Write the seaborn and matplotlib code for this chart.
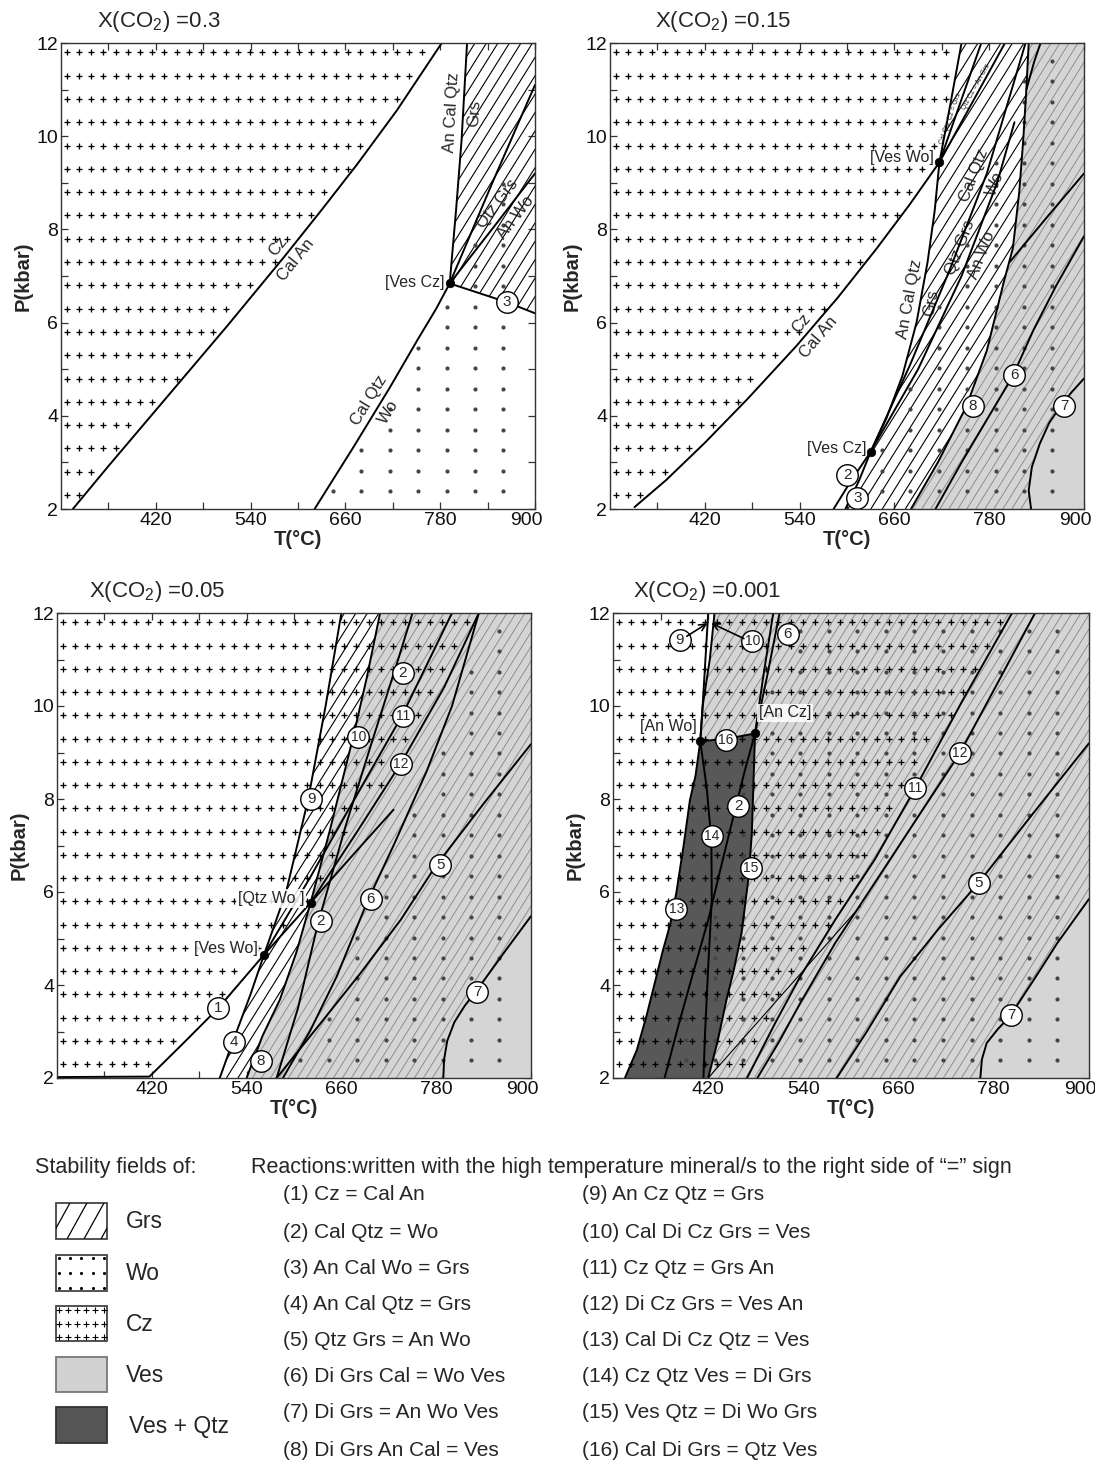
import numpy as np
import matplotlib
matplotlib.use("Agg")
import matplotlib.pyplot as plt
import matplotlib.transforms as mtrans
import seaborn as sns
from matplotlib.path import Path
from matplotlib.patches import Polygon, Rectangle
from matplotlib.collections import LineCollection

sns.set_theme(style="ticks")
plt.rcParams["font.family"] = ["Liberation Sans", "DejaVu Sans"]
plt.rcParams["mathtext.fontset"] = "custom"
plt.rcParams["mathtext.rm"] = "Liberation Sans"
plt.rcParams["mathtext.it"] = "Liberation Sans:italic"
plt.rcParams["mathtext.bf"] = "Liberation Sans:bold"

# ---------------- axes ranges and ticks ----------------
T_MIN, T_MAX = 300, 900
P_MIN, P_MAX = 2, 12
T_MAJOR = [420, 540, 660, 780, 900]
T_MINOR = [360, 480, 600, 720, 840]
P_MAJOR = [2, 4, 6, 8, 10, 12]
P_MINOR = [3, 5, 7, 9, 11]
TITLES = ["X(CO$_2$) =0.3", "X(CO$_2$) =0.15", "X(CO$_2$) =0.05", "X(CO$_2$) =0.001"]

# ---------------- X(CO2) = 0.3 ----------------
A_VESCZ = (792, 6.84)
A_R1_T = [315, 360, 434, 510, 582, 630, 675, 725, 782]
A_R1_P = [2.0, 2.92, 4.4, 5.92, 7.4, 8.42, 9.4, 10.55, 12.0]
A_R2_T = [621, 671, 716, 752, 775, 792]
A_R2_P = [2.0, 3.35, 4.6, 5.65, 6.3, 6.84]
A_R2M_T = [792, 846, 900]
A_R2M_P = [6.84, 9.0, 11.1]
A_R3_T = [792, 864, 900]
A_R3_P = [6.84, 6.44, 6.2]
A_R4_T = [792, 800, 807, 814]
A_R4_P = [6.84, 8.4, 9.9, 12.0]
A_R5_T = [792, 850, 900]
A_R5_P = [6.84, 8.1, 9.2]

# ---------------- X(CO2) = 0.15 ----------------
B_VESWO = (717, 9.44)
B_VESCZ = (630, 3.23)
B_R1_T = [331, 371, 420, 474, 536, 589, 638, 680, 717]
B_R1_P = [2.04, 2.62, 3.42, 4.36, 5.5, 6.55, 7.6, 8.55, 9.44]
B_R4_T = [630, 650, 670, 688, 702, 711, 717, 731, 745]
B_R4_P = [3.23, 3.95, 4.85, 6.0, 7.3, 8.4, 9.44, 10.7, 12.0]
B_R2_T = [583, 605, 630, 680, 730, 777, 826]
B_R2_P = [2.0, 2.6, 3.23, 5.1, 7.13, 9.2, 12.0]
B_R3_T = [598, 615, 630]
B_R3_P = [2.0, 2.6, 3.23]
B_R5_T = [630, 690, 745, 790, 812]
B_R5_P = [3.23, 5.0, 7.0, 9.0, 10.3]
B_R8_T = [681, 715, 751, 777, 798, 810, 818, 823, 827, 830]
B_R8_P = [2.0, 3.0, 4.2, 5.4, 6.84, 7.6, 8.8, 9.9, 11.0, 12.0]
B_F1_T = [717, 770]
B_F1_P = [9.44, 12.0]
B_F2_T = [717, 800]
B_F2_P = [9.44, 12.0]
B_R10_T = [827, 837, 845]
B_R10_P = [11.0, 11.6, 12.0]
B_R6_T = [712, 745, 780, 810, 836, 865, 900]
B_R6_P = [2.0, 3.0, 4.0, 4.86, 5.84, 6.8, 7.85]
B_R12_T = [806, 855, 900]
B_R12_P = [7.3, 8.3, 9.2]
B_R7_T = [833, 830, 834, 844, 856, 868, 884, 900]
B_R7_P = [2.0, 2.4, 2.9, 3.4, 3.85, 4.15, 4.5, 4.8]

# ---------------- X(CO2) = 0.05 ----------------
C_VESWO = (562, 4.65)
C_QTZWO = (621, 5.77)
C_R1_T = [300, 417, 460, 504, 562, 621, 680, 726]
C_R1_P = [2.02, 2.03, 2.75, 3.5, 4.65, 5.77, 6.9, 7.77]
C_R4_T = [506, 521, 545, 562]
C_R4_P = [2.0, 2.71, 3.8, 4.65]
C_R9_T = [562, 590, 618, 640, 660]
C_R9_P = [4.65, 6.0, 8.0, 10.0, 12.0]
C_R8_T = [540, 560, 582, 603, 621]
C_R8_P = [2.0, 2.9, 3.68, 4.7, 5.77]
C_R10_T = [621, 645, 675, 692, 709]
C_R10_P = [5.77, 7.3, 9.34, 10.6, 12.0]
C_R2_T = [578, 605, 630, 665, 700, 730, 750]
C_R2_P = [2.0, 3.5, 5.3, 7.4, 9.3, 10.9, 12.0]
C_R11_T = [562, 620, 680, 737, 800]
C_R11_P = [4.65, 6.3, 8.1, 9.8, 12.0]
C_R12_T = [621, 680, 735, 790, 834]
C_R12_P = [5.77, 7.3, 8.76, 10.4, 12.0]
C_R6_T = [586, 620, 654, 693, 726, 768, 800, 834]
C_R6_P = [2.0, 3.0, 4.18, 5.8, 7.0, 8.6, 10.0, 12.0]
C_R5_T = [578, 630, 684, 735, 779, 840, 900]
C_R5_P = [2.0, 3.1, 4.25, 5.4, 6.55, 7.9, 9.18]
C_R7_T = [789, 790, 794, 803, 816, 832, 866, 900]
C_R7_P = [2.0, 2.4, 2.8, 3.2, 3.55, 3.9, 4.7, 5.48]

# ---------------- X(CO2) = 0.001 ----------------
D_ANWO = (410, 9.24)
D_ANCZ = (479, 9.41)
D_R9_T = [410, 413, 416.5, 420]
D_R9_P = [9.24, 10.0, 11.0, 12.0]
D_R10_T = [410, 413, 422, 428]
D_R10_P = [9.24, 10.0, 11.0, 12.0]
D_R16_T = [410, 445, 479]
D_R16_P = [9.24, 9.3, 9.41]
D_R6_T = [479, 495, 510]
D_R6_P = [9.41, 10.7, 12.0]
D_R2_T = [365, 382, 400, 420, 437, 455, 466, 479]
D_R2_P = [2.0, 3.1, 4.2, 5.4, 6.6, 7.85, 8.6, 9.41]
D_R2M_T = [479, 490, 502]
D_R2M_P = [9.41, 10.7, 12.0]
D_R13_T = [410, 404, 397, 389, 380, 372, 363, 352, 342, 330, 315]
D_R13_P = [9.24, 8.5, 7.98, 7.0, 6.0, 5.3, 4.75, 4.0, 3.32, 2.6, 2.0]
D_R14_T = [410, 418, 424, 424.5, 420, 416, 414]
D_R14_P = [9.24, 8.26, 7.12, 5.83, 4.39, 2.96, 2.0]
D_R15_T = [479, 477, 475, 471, 462, 452, 443, 432, 420]
D_R15_P = [9.41, 8.3, 7.26, 6.33, 5.11, 4.3, 3.68, 2.8, 2.0]
D_R11_T = [469, 505, 536, 580, 630, 681, 740, 803]
D_R11_P = [2.0, 3.2, 4.18, 5.4, 6.7, 8.23, 10.1, 12.0]
D_R12_T = [482, 510, 536, 580, 630, 680, 737, 785, 832]
D_R12_P = [2.0, 2.8, 3.61, 4.9, 6.2, 7.5, 8.98, 10.5, 12.0]
D_RM_T = [420, 612]
D_RM_P = [2.0, 5.7]
D_R5_T = [582, 620, 662, 710, 761, 830, 900]
D_R5_P = [2.0, 3.0, 4.18, 5.2, 6.2, 7.7, 9.2]
D_R7_T = [763, 765, 771, 785, 800, 830, 860, 900]
D_R7_P = [2.0, 2.4, 2.75, 3.05, 3.32, 4.1, 4.9, 5.85]

# reaction numbers in circles: (label, T, P)
A_NUMS = [("3", 864, 6.44)]
B_NUMS = [("2", 600, 2.72), ("3", 613, 2.23), ("6", 812, 4.88), ("7", 875, 4.2), ("8", 759, 4.22)]
C_NUMS = [("1", 504, 3.5), ("4", 524, 2.78), ("8", 558, 2.36), ("9", 622, 8.0), ("10", 681.5, 9.33),
          ("2", 737.6, 10.7), ("11", 737.6, 9.79), ("12", 735, 8.76), ("2", 634, 5.37),
          ("6", 697, 5.86), ("5", 785, 6.59), ("7", 832, 3.84)]
D_NUMS = [("9", 384, 11.43), ("10", 475.5, 11.39), ("6", 520, 11.54), ("16", 442, 9.27),
          ("2", 458, 7.85), ("14", 425, 7.2), ("15", 474, 6.51), ("13", 380, 5.64),
          ("11", 681, 8.23), ("12", 737, 8.98), ("5", 761, 6.2), ("7", 802, 3.35)]

# legend content
FIELD_NAMES = ["Grs", "Wo", "Cz", "Ves", "Ves + Qtz"]
REACTIONS_LEFT = ["(1) Cz = Cal An", "(2) Cal Qtz = Wo", "(3) An Cal Wo = Grs", "(4) An Cal Qtz = Grs",
                  "(5) Qtz Grs = An Wo", "(6) Di Grs Cal = Wo Ves", "(7) Di Grs = An Wo Ves",
                  "(8) Di Grs An Cal = Ves"]
REACTIONS_RIGHT = ["(9) An Cz Qtz = Grs", "(10) Cal Di Cz Grs = Ves", "(11) Cz Qtz = Grs An",
                   "(12) Di Cz Grs = Ves An", "(13) Cal Di Cz Qtz = Ves", "(14) Cz Qtz Ves = Di Grs",
                   "(15) Ves Qtz = Di Wo Grs", "(16) Cal Di Grs = Qtz Ves"]

# ---------------- styling ----------------
VES_GRAY = "#d5d5d5"
VESQTZ_GRAY = "#585858"
HATCH_GRAY = "#8e8e8e"
DOT_COLOR = "#454545"
CZ_T = np.arange(307, 900, 15.5)
CZ_P = np.arange(2.3, 12.0, 0.5)
WO_T = np.arange(320, 900, 36.0)
WO_P = np.arange(2.38, 12.0, 0.44)

FIG_W, FIG_H = 1095, 1464
fig = plt.figure(figsize=(FIG_W / 100, FIG_H / 100), dpi=100)


def make_ax(l, r, t, b):
    ax = fig.add_axes([l / FIG_W, 1 - b / FIG_H, (r - l) / FIG_W, (b - t) / FIG_H])
    ax.set_xlim(T_MIN, T_MAX)
    ax.set_ylim(P_MIN, P_MAX)
    return ax


def pts(T, P):
    return list(zip(T, P))


def rev(T, P):
    return list(zip(T[::-1], P[::-1]))


def curve(ax, T, P, lw=1.4, color="black"):
    sns.lineplot(x=T, y=P, sort=False, estimator=None, color=color, linewidth=lw,
                 ax=ax, zorder=5, legend=False)


def fill(ax, verts, color, z=1.0):
    ax.add_patch(Polygon(verts, closed=True, fc=color, ec="none", zorder=z))


def hatch(ax, verts, color, spacing, lw, angle=58, z=2):
    clip = Polygon(verts, closed=True, fc="none", ec="none", transform=ax.transData)
    ax.add_patch(clip)
    bb = ax.get_position()
    W, H = bb.width * FIG_W, bb.height * FIG_H
    k = np.tan(np.radians(angle))
    segs = []
    for c in np.arange(-H / k - spacing, W + spacing, spacing):
        x0, x1 = c, c + H / k
        segs.append([(T_MIN + x0 / W * (T_MAX - T_MIN), P_MIN),
                     (T_MIN + x1 / W * (T_MAX - T_MIN), P_MAX)])
    lc = LineCollection(segs, colors=color, linewidths=lw, zorder=z)
    ax.add_collection(lc, autolim=False)
    lc.set_clip_path(clip)


def marks(ax, verts, kind):
    path = Path(verts)
    if kind == "cz":
        TT, PP = np.meshgrid(CZ_T, CZ_P)
    else:
        TT, PP = np.meshgrid(WO_T, WO_P)
    g = np.column_stack([TT.ravel(), PP.ravel()])
    ok = path.contains_points(g) & path.contains_points(g + [5, 0]) & path.contains_points(g - [5, 0])
    if kind == "cz":
        ax.scatter(g[ok, 0], g[ok, 1], marker="+", s=24, linewidths=0.95, color="black", zorder=3)
    else:
        ax.scatter(g[ok, 0], g[ok, 1], marker="o", s=9, linewidths=0, color=DOT_COLOR, zorder=3)


def num(ax, items):
    for s, T, P in items:
        ax.scatter([T], [P], s=240, facecolor="white", edgecolor="black", linewidths=1.0, zorder=6)
        ax.text(T, P, s, ha="center", va="center", fontsize=11 if len(s) == 1 else 10, zorder=7)


def point(ax, TP):
    sns.scatterplot(x=[TP[0]], y=[TP[1]], color="black", s=38, ax=ax, zorder=8, legend=False,
                    edgecolor="black")


def line_label(ax, T, P, T0, above, below, d=8, fs=12):
    T = np.asarray(T, float)
    P = np.asarray(P, float)
    P0 = np.interp(T0, T, P)
    P1 = np.interp(T0 + 1.0, T, P)
    a = ax.transData.transform([(T0, P0), (T0 + 1.0, P1)])
    ang = np.degrees(np.arctan2(a[1, 1] - a[0, 1], a[1, 0] - a[0, 0]))
    r = np.radians(ang)
    nx, ny = -np.sin(r), np.cos(r)
    for txt, sgn in ((above, 1), (below, -1)):
        if txt:
            ax.annotate(txt, (T0, P0), xytext=(sgn * nx * d, sgn * ny * d), textcoords="offset points",
                        rotation=ang, rotation_mode="anchor", ha="center", va="center",
                        fontsize=fs, zorder=4)


def bracket(ax, T, P, s, ha, box=False):
    kw = dict(fontsize=11.5, ha=ha, va="center", zorder=7)
    if box:
        kw["bbox"] = dict(boxstyle="square,pad=0.1", fc="white", ec="none", alpha=0.85)
    ax.text(T, P, s, **kw)


def style(ax, title, tx, ty):
    ax.set_xlim(T_MIN, T_MAX)
    ax.set_ylim(P_MIN, P_MAX)
    ax.set_xticks(T_MAJOR)
    ax.set_xticks(T_MINOR, minor=True)
    ax.set_yticks(P_MAJOR)
    ax.set_yticks(P_MINOR, minor=True)
    ax.tick_params(which="both", direction="in", top=True, right=True, length=5, width=0.9,
                   color="#333333", labelsize=14, pad=2, labelcolor="#111111")
    for sp in ax.spines.values():
        sp.set_color("#333333")
        sp.set_linewidth(1.0)
        sp.set_zorder(9)
    ax.set_xlabel("T(°C)", fontsize=14.5, fontweight="bold", labelpad=1)
    ax.set_ylabel("P(kbar)", fontsize=14.5, fontweight="bold", labelpad=3)
    # keep the right-most temperature label inside the frame edge
    last = ax.xaxis.get_major_ticks()[-1].label1
    last.set_horizontalalignment("right")
    last.set_transform(last.get_transform() + mtrans.ScaledTranslation(0.08, 0, fig.dpi_scale_trans))
    fig.text(tx / FIG_W, 1 - ty / FIG_H, title, fontsize=16, ha="left", va="center")


axA = make_ax(61, 535, 43, 509)
axB = make_ax(610, 1084, 43, 509)
axC = make_ax(57, 531, 613, 1078)
axD = make_ax(613, 1089, 613, 1078)

# ================= panel A: X(CO2)=0.3 =================
ax = axA
cz = [(300, 2)] + pts(A_R1_T, A_R1_P) + [(300, 12)]
grs = pts(A_R4_T, A_R4_P) + [(900, 12)] + rev(A_R3_T, A_R3_P)
wo = pts(A_R2_T, A_R2_P) + pts(A_R2M_T, A_R2M_P)[1:] + [(900, 2)]
hatch(ax, grs, "black", 11.5, 0.8)
marks(ax, cz, "cz")
marks(ax, wo, "wo")
for T, P in [(A_R1_T, A_R1_P), (A_R2_T, A_R2_P), (A_R2M_T, A_R2M_P), (A_R3_T, A_R3_P),
             (A_R4_T, A_R4_P), (A_R5_T, A_R5_P)]:
    curve(ax, T, P)
point(ax, A_VESCZ)
line_label(ax, A_R1_T, A_R1_P, 586, "Cz", "Cal An")
line_label(ax, A_R4_T, A_R4_P, 809, "An Cal Qtz", "Grs")
line_label(ax, A_R5_T, A_R5_P, 864, "Qtz Grs", "An Wo")
line_label(ax, A_R2_T, A_R2_P, 702, "Cal Qtz", "Wo")
bracket(ax, 785, 6.86, "[Ves Cz]", "right")
num(ax, A_NUMS)

# ================= panel B: X(CO2)=0.15 =================
ax = axB
cz = [(300, 2), (331, 2)] + pts(B_R1_T, B_R1_P) + pts(B_R4_T, B_R4_P)[7:] + [(300, 12)]
ves = pts(B_R8_T, B_R8_P) + [(900, 12), (900, 2)]
ves_grs = pts(B_R8_T, B_R8_P) + [(900, 12)] + rev(B_R7_T, B_R7_P)
grs = pts(B_R3_T, B_R3_P) + pts(B_R4_T, B_R4_P) + [(830, 12)] + rev(B_R8_T, B_R8_P)
wo = pts(B_R2_T, B_R2_P) + [(900, 12), (900, 2)]
fill(ax, ves, VES_GRAY)
hatch(ax, ves_grs, HATCH_GRAY, 9, 0.7)
hatch(ax, grs, "black", 11.5, 0.8)
marks(ax, cz, "cz")
marks(ax, wo, "wo")
for T, P in [(B_R1_T, B_R1_P), (B_R4_T, B_R4_P), (B_R2_T, B_R2_P), (B_R3_T, B_R3_P),
             (B_R5_T, B_R5_P), (B_R8_T, B_R8_P), (B_F1_T, B_F1_P), (B_F2_T, B_F2_P),
             (B_R10_T, B_R10_P), (B_R6_T, B_R6_P), (B_R12_T, B_R12_P), (B_R7_T, B_R7_P)]:
    curve(ax, T, P)
point(ax, B_VESWO)
point(ax, B_VESCZ)
line_label(ax, B_R1_T, B_R1_P, 553, "Cz", "Cal An")
line_label(ax, B_R4_T, B_R4_P, 693, "An Cal Qtz", "Grs")
line_label(ax, B_R2_T, B_R2_P, 774, "Cal Qtz", "Wo")
line_label(ax, B_R5_T, B_R5_P, 757, "Qtz Grs", "An Wo")
line_label(ax, B_F1_T, B_F1_P, 736, "Cal Qtz Cz = Grs", "", d=3, fs=5)
line_label(ax, B_F2_T, B_F2_P, 768, "Qtz Cz = An Grs", "", d=3, fs=5)
bracket(ax, 710, 9.55, "[Ves Wo]", "right")
bracket(ax, 625, 3.3, "[Ves Cz]", "right")
num(ax, B_NUMS)

# ================= panel C: X(CO2)=0.05 =================
ax = axC
cz = pts(C_R1_T, C_R1_P)[:6] + pts(C_R12_T, C_R12_P)[1:] + [(300, 12)]
ves = pts(C_R8_T, C_R8_P) + pts(C_R10_T, C_R10_P)[1:] + [(900, 12), (900, 2)]
ves_grs = pts(C_R8_T, C_R8_P) + pts(C_R10_T, C_R10_P)[1:] + [(900, 12)] + rev(C_R7_T, C_R7_P)
grs = pts(C_R4_T, C_R4_P) + pts(C_R9_T, C_R9_P)[1:] + rev(C_R10_T, C_R10_P) + rev(C_R8_T, C_R8_P)[1:]
wo = pts(C_R6_T, C_R6_P) + [(900, 12), (900, 2)]
fill(ax, ves, VES_GRAY)
hatch(ax, ves_grs, HATCH_GRAY, 9, 0.7)
hatch(ax, grs, "black", 11.5, 0.8)
marks(ax, cz, "cz")
marks(ax, wo, "wo")
for T, P in [(C_R1_T, C_R1_P), (C_R4_T, C_R4_P), (C_R9_T, C_R9_P), (C_R8_T, C_R8_P),
             (C_R10_T, C_R10_P), (C_R2_T, C_R2_P), (C_R11_T, C_R11_P), (C_R12_T, C_R12_P),
             (C_R6_T, C_R6_P), (C_R5_T, C_R5_P), (C_R7_T, C_R7_P)]:
    curve(ax, T, P)
point(ax, C_VESWO)
point(ax, C_QTZWO)
bracket(ax, 613, 5.86, "[Qtz Wo ]", "right", box=True)
bracket(ax, 554, 4.78, "[Ves Wo]", "right", box=True)
num(ax, C_NUMS)

# ================= panel D: X(CO2)=0.001 =================
ax = axD
cz = [(300, 2)] + pts(D_R11_T, D_R11_P) + [(300, 12)]
ves = rev(D_R10_T, D_R10_P) + pts(D_R16_T, D_R16_P)[1:] + pts(D_R15_T, D_R15_P)[1:] + [(900, 2), (900, 12)]
ves_grs = (rev(D_R10_T, D_R10_P) + pts(D_R16_T, D_R16_P)[1:] + pts(D_R15_T, D_R15_P)[1:]
           + pts(D_R7_T, D_R7_P) + [(900, 12)])
dark = pts(D_R16_T, D_R16_P) + pts(D_R15_T, D_R15_P)[1:] + pts(D_R13_T, D_R13_P)[::-1]
wo = pts(D_R2_T, D_R2_P) + pts(D_R6_T, D_R6_P)[1:] + [(900, 12), (900, 2)]
fill(ax, ves, VES_GRAY)
fill(ax, dark, VESQTZ_GRAY, z=1.2)
hatch(ax, ves_grs, HATCH_GRAY, 9, 0.7)
marks(ax, cz, "cz")
marks(ax, wo, "wo")
for T, P in [(D_R9_T, D_R9_P), (D_R10_T, D_R10_P), (D_R16_T, D_R16_P), (D_R6_T, D_R6_P),
             (D_R2_T, D_R2_P), (D_R2M_T, D_R2M_P), (D_R13_T, D_R13_P), (D_R14_T, D_R14_P),
             (D_R15_T, D_R15_P), (D_R11_T, D_R11_P), (D_R12_T, D_R12_P), (D_R5_T, D_R5_P),
             (D_R7_T, D_R7_P)]:
    curve(ax, T, P)
curve(ax, D_RM_T, D_RM_P, lw=0.8)
point(ax, D_ANWO)
point(ax, D_ANCZ)
bracket(ax, 405, 9.55, "[An Wo]", "right", box=True)
bracket(ax, 484, 9.85, "[An Cz]", "left", box=True)
ax.annotate("", xy=(419, 11.78), xytext=(393, 11.5),
            arrowprops=dict(arrowstyle="->", lw=1.2, color="black", shrinkA=0, shrinkB=0), zorder=7)
ax.annotate("", xy=(424, 11.78), xytext=(465, 11.45),
            arrowprops=dict(arrowstyle="->", lw=1.2, color="black", shrinkA=0, shrinkB=0), zorder=7)
num(ax, D_NUMS)

style(axA, TITLES[0], 97, 21)
style(axB, TITLES[1], 655, 21)
style(axC, TITLES[2], 89, 591)
style(axD, TITLES[3], 633, 591)

# ================= legend and reaction list =================
lax = fig.add_axes([0, 0, 1, 1])
lax.set_xlim(0, FIG_W)
lax.set_ylim(FIG_H, 0)
lax.axis("off")
lax.patch.set_alpha(0)

lax.text(35, 1167, "Stability fields of:", fontsize=15.5, va="center", ha="left")
lax.text(251, 1167, "Reactions:written with the high temperature mineral/s to the right side of \u201c=\u201d sign",
         fontsize=15.5, va="center", ha="left")

SW_X, SW_W = 56, 51
SW_Y = [1203, 1255, 1306, 1357, 1407]
SW_H = [36, 36, 35, 35, 36]
face = ["white", "white", "white", "#d2d2d2", "#555555"]
edge = ["#444444", "#444444", "#444444", "#777777", "#333333"]
for i, name in enumerate(FIELD_NAMES):
    r = Rectangle((SW_X, SW_Y[i]), SW_W, SW_H[i], fc=face[i], ec=edge[i], lw=1.3, zorder=2)
    lax.add_patch(r)
    lax.text(126 if i < 4 else 129, SW_Y[i] + SW_H[i] / 2 + 1, name, fontsize=16.5, va="center", ha="left")

# Grs swatch hatching
r0 = Rectangle((SW_X, SW_Y[0]), SW_W, SW_H[0], fc="none", ec="none", transform=lax.transData)
lax.add_patch(r0)
kk = np.tan(np.radians(61))
segs = []
for c in np.arange(SW_X - 40, SW_X + SW_W + 20, 17):
    y_bot = SW_Y[0] + SW_H[0]
    segs.append([(c, y_bot), (c + SW_H[0] / kk, SW_Y[0])])
lc = LineCollection(segs, colors="black", linewidths=0.9, zorder=3)
lax.add_collection(lc, autolim=False)
lc.set_clip_path(r0)

# Wo swatch dots
wx = [SW_X + 3 + 11.2 * j for j in range(5)]
wy = [SW_Y[1] + 3, SW_Y[1] + SW_H[1] / 2, SW_Y[1] + SW_H[1] - 3]
WX, WY = np.meshgrid(wx, wy)
lax.scatter(WX.ravel(), WY.ravel(), s=5, color="black", zorder=3, linewidths=0)
# Cz swatch pluses
cx = [SW_X + 3 + 9 * j for j in range(6)]
cy = [SW_Y[2] + 4, SW_Y[2] + SW_H[2] / 2, SW_Y[2] + SW_H[2] - 4]
CX, CY = np.meshgrid(cx, cy)
lax.scatter(CX.ravel(), CY.ravel(), s=14, marker="+", color="black", zorder=3, linewidths=0.8)

ROW_Y = [1195, 1232, 1268, 1305, 1341, 1377, 1413, 1450]
for i, (l, r) in enumerate(zip(REACTIONS_LEFT, REACTIONS_RIGHT)):
    lax.text(283, ROW_Y[i], l, fontsize=15, va="center", ha="left")
    lax.text(582, ROW_Y[i], r, fontsize=15, va="center", ha="left")

fig.savefig("out.png", dpi=100)
